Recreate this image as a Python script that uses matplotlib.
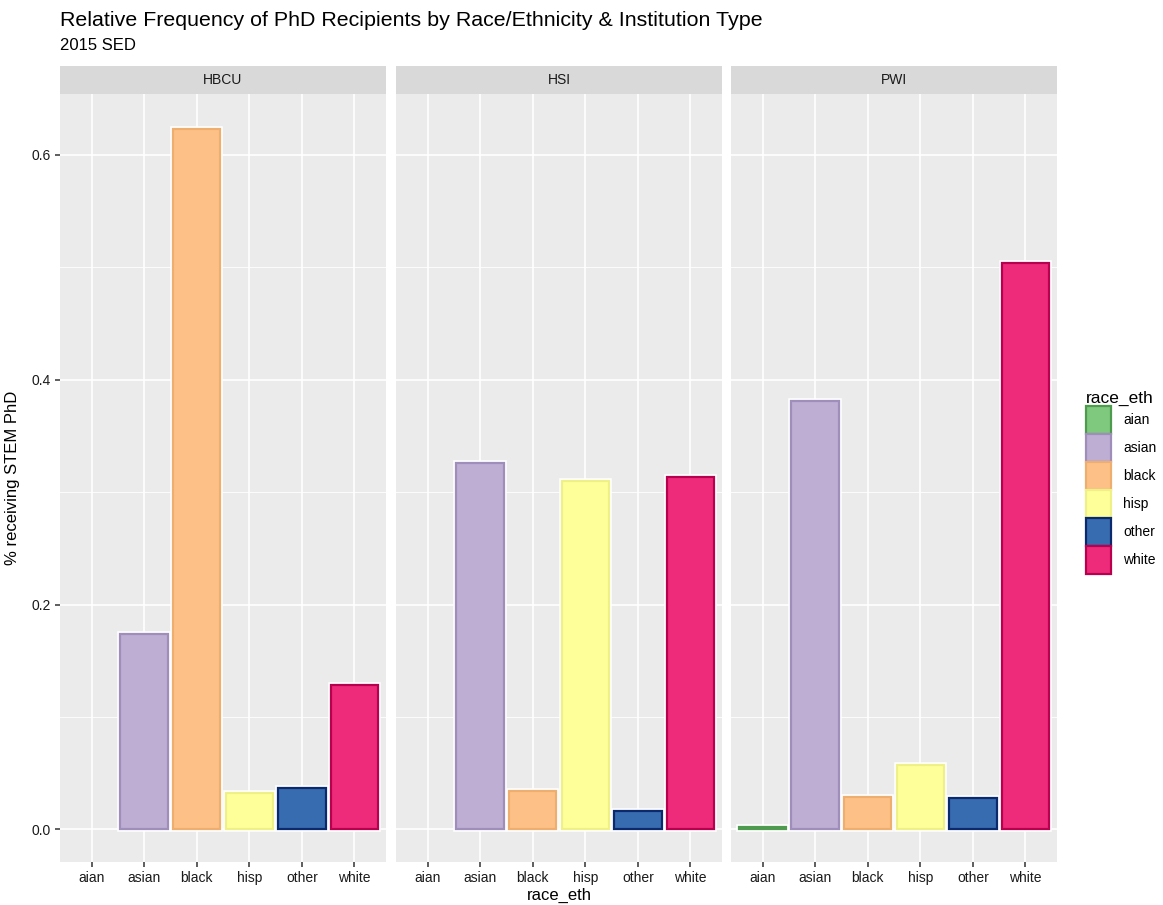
import numpy as np
import matplotlib
matplotlib.use("Agg")
import matplotlib.pyplot as plt
import matplotlib.patheffects as pe
from matplotlib.patches import Patch

plt.rcParams['font.family'] = ['Liberation Sans', 'DejaVu Sans']

# data
races = ["aian", "asian", "black", "hisp", "other", "white"]
institutions = ["HBCU", "HSI", "PWI"]
hbcu = [0.0, 0.174, 0.623, 0.032, 0.037, 0.128]
hsi = [0.0, 0.326, 0.034, 0.310, 0.016, 0.313]
pwi = [0.002, 0.381, 0.029, 0.057, 0.028, 0.504]
values = [hbcu, hsi, pwi]

fill_colors = ["#7FC97F", "#BEAED4", "#FDC086", "#FFFF99", "#386CB0", "#EE2A7B"]
edge_colors = ["#4E9A4E", "#A08EBA", "#EDAE70", "#F0F088", "#0B2A6E", "#B8004F"]

W, H = 1163, 905
fig = plt.figure(figsize=(W / 100, H / 100), dpi=100)

panel_left = [60, 396, 731]
panel_w = 326
panel_top, panel_bot = 94, 862
strip_top = 66

x = np.arange(len(races))
halo = [pe.Stroke(linewidth=4, foreground="white"), pe.Normal()]

for i, inst in enumerate(institutions):
    ax = fig.add_axes([panel_left[i] / W, 1 - panel_bot / H, panel_w / W, (panel_bot - panel_top) / H])
    ax.set_facecolor("#EBEBEB")
    bars = ax.bar(x, values[i], width=0.9, color=fill_colors, edgecolor=edge_colors,
                  linewidth=1.6, zorder=3)
    for b in bars:
        if b.get_height() > 0:
            b.set_path_effects(halo)
        else:
            b.set_visible(False)
    ax.set_xlim(-0.6, len(races) - 0.4)
    ax.set_ylim(-0.029, 0.654)
    ax.set_yticks([0.0, 0.2, 0.4, 0.6])
    ax.set_yticks([0.1, 0.3, 0.5], minor=True)
    ax.set_xticks(x)
    ax.set_xticklabels(races, fontsize=10, color="#1A1A1A")
    ax.grid(True, which="major", color="white", linewidth=1.2, zorder=0)
    ax.grid(True, which="minor", axis="y", color="white", linewidth=0.6, zorder=0)
    ax.set_axisbelow(True)
    for s in ax.spines.values():
        s.set_visible(False)
    ax.tick_params(axis="both", which="major", length=3.5, width=1.1, color="#333333", pad=3)
    ax.tick_params(axis="y", which="minor", length=0)
    if i == 0:
        ax.set_yticklabels(["0.0", "0.2", "0.4", "0.6"], fontsize=10, color="#1A1A1A")
        ax.set_ylabel("% receiving STEM PhD", fontsize=12, labelpad=8)
    else:
        ax.set_yticklabels([])
        ax.tick_params(axis="y", which="major", length=0)
    if i == 1:
        ax.set_xlabel("race_eth", fontsize=12, labelpad=2)

    sax = fig.add_axes([panel_left[i] / W, 1 - panel_top / H, panel_w / W, (panel_top - strip_top) / H])
    sax.set_facecolor("#D9D9D9")
    sax.set_xticks([])
    sax.set_yticks([])
    for s in sax.spines.values():
        s.set_visible(False)
    sax.text(0.5, 0.5, inst, ha="center", va="center", fontsize=10, color="#1A1A1A",
             transform=sax.transAxes)

fig.text(60 / W, 1 - 20 / H, "Relative Frequency of PhD Recipients by Race/Ethnicity & Institution Type",
         fontsize=15.4, va="center", ha="left")
fig.text(60 / W, 1 - 46 / H, "2015 SED", fontsize=12, va="center", ha="left")

handles = [Patch(facecolor=f, edgecolor=e, linewidth=1.6) for f, e in zip(fill_colors, edge_colors)]
leg = fig.legend(handles, races, loc="upper left", bbox_to_anchor=(1080 / W, 1 - 385 / H),
                 frameon=False, title="race_eth", fontsize=10, title_fontsize=12.5,
                 handlelength=1.8, handleheight=2.65, handletextpad=0.9, labelspacing=0.05,
                 borderaxespad=0)
leg._legend_box.align = "left"

fig.savefig("out.png", dpi=100, facecolor="white")
